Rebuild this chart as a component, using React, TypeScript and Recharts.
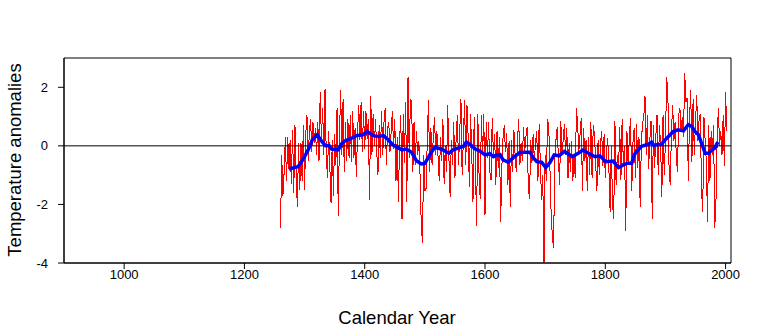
import { LineChart, Line, XAxis, YAxis, ReferenceLine, ReferenceArea } from "recharts";

// annual reconstruction, read every second year from the plot
const annualStart = 1260;
const annualStep = 2;
const annualAnomalies = [
  -2.8, -0.3, -1.7, -0.9, 0.3, -1.2, 0.3, -0.8, 0.2, -1.3,
  0.55, -1.6, 0.7, -1.0, -2.1, 0.1, -1.5, 0.1, -1.2, 0.7,
  -1.5, 0.4, 1.05, -0.5, 0.5, 0.9, -0.2, 0.8, 0.1, 0.6,
  -0.3, 0.8, -0.5, 1.85, 0.2, 1.3, -0.3, 1.95, -0.2, -1.1,
  0.5, -0.7, -1.95, 0.2, -1.7, 0.4, -0.65, 1.3, -2.4, 0.3,
  1.9, -0.3, 1.6, -0.9, 0.8, -0.5, 0.9, -0.4, 1.05, -0.55,
  1.2, -0.4, 0.6, -1.05, 0.4, 1.4, 0.2, 1.5, -0.2, 1.2,
  -0.1, 1.2, 0.25, 0.9, -1.85, 1.7, -0.3, 1.1, 0.0, 0.9,
  -0.2, -1.0, 0.7, -0.4, 1.2, -0.3, 0.8, 1.3, -0.65, 0.6,
  0.8, -0.2, 0.5, 1.2, -0.1, 0.9, -1.2, 0.3, -1.9, 0.2,
  1.05, -2.5, 1.1, -0.6, 1.5, -1.9, 2.35, -0.4, 1.6, 1.5,
  -0.9, 0.8, -0.65, 0.5, -0.3, 0.15, -1.0, -2.7, -3.3, -0.3,
  -1.55, -1.45, 0.2, 1.55, -0.9, 0.6, -0.65, 0.3, 1.0, -0.3,
  0.5, -0.4, -1.2, 0.3, -0.5, 0.9, -1.3, 0.0, -0.9, 1.4,
  -0.4, -1.75, 0.2, -0.65, 0.8, -1.1, 0.3, 1.05, -0.65, 0.5,
  1.6, -1.0, 0.2, 1.55, -0.65, 1.4, 0.3, -1.4, 1.1, -0.3,
  -1.9, 1.0, -0.5, -2.75, 1.1, -0.9, -1.8, 1.05, -0.3, 1.1,
  -2.35, 0.8, -0.4, 0.8, -0.9, -1.15, 0.95, -0.3, 0.4, -1.35,
  0.5, -0.75, 0.3, -2.6, -0.75, 0.3, 0.7, -0.2, 0.45, -1.35,
  0.15, -2.1, 0.2, -0.9, 0.55, -0.3, -0.9, 0.2, 0.9, -0.65,
  0.1, -0.5, 0.65, -0.2, 0.3, 0.65, -1.45, -1.8, 0.2, -0.6,
  0.4, -0.5, 0.1, 0.5, -1.2, 0.75, -0.6, -1.85, -1.0, -4.2,
  -0.3, -1.2, 0.9, 0.65, -0.8, -2.35, -3.1, -3.5, -0.5, 0.2,
  0.65, -0.4, -1.35, 0.85, -0.3, 0.2, 0.75, -0.3, 0.6, -1.1,
  0.1, -0.9, 0.15, -1.2, -0.3, -1.1, 1.3, 0.75, -0.2, 0.4,
  0.95, -1.55, 0.6, -0.5, 0.2, -1.55, 0.3, -1.0, 0.8, -1.1,
  0.7, 0.4, -0.6, -1.55, 0.2, -1.0, 0.1, 0.5, -0.7, 0.4,
  -1.1, -0.2, 0.25, -0.8, -2.25, 0.0, -1.95, -2.5, 0.85, -1.35,
  -0.3, -0.8, 0.65, -1.15, 0.9, -0.6, 0.0, -2.9, 0.5, -0.65,
  0.3, 0.95, -1.55, 0.1, 0.6, -1.1, 0.75, -0.75, 0.3, -2.1,
  0.2, 0.75, 1.0, 1.7, -0.3, 1.05, -0.8, 0.2, 0.85, -2.5,
  0.7, -0.75, 0.3, 1.05, -1.0, 0.7, 0.0, -1.75, 1.05, -1.0,
  0.15, 2.35, 1.8, -0.75, -1.35, 0.5, 1.4, 0.15, 0.8, -0.3,
  -0.9, 1.05, 1.3, 0.5, 1.0, 0.3, 2.5, 1.5, 1.65, -1.2,
  0.9, 1.9, -0.55, 1.6, -0.3, 0.8, 1.75, 0.15, 0.9, 1.1,
  -1.5, -2.25, 1.0, 0.2, -0.55, -2.6, 0.7, -1.2, 0.5, -0.3,
  0.7, -2.8, -1.9, 0.2, 1.3, 0.0, 0.5, -0.3, 1.05, -0.7,
  1.85, 0.5,
];

// smoothed curve
const smoothYears = [
  1274, 1289, 1297, 1306, 1313, 1321, 1328, 1335, 1341, 1345,
  1356, 1361, 1367, 1375, 1378, 1386, 1397, 1404, 1414, 1422,
  1431, 1439, 1447, 1455, 1462, 1469, 1478, 1486, 1494, 1500,
  1508, 1516, 1522, 1530, 1540, 1547, 1558, 1564, 1569, 1575,
  1583, 1591, 1600, 1608, 1614, 1619, 1625, 1630, 1639, 1647,
  1658, 1669, 1675, 1680, 1686, 1694, 1701, 1708, 1715, 1723,
  1732, 1738, 1745, 1755, 1763, 1772, 1783, 1791, 1801, 1813,
  1822, 1830, 1837, 1844, 1848, 1852, 1860, 1866, 1871, 1877,
  1881, 1887, 1893, 1898, 1905, 1913, 1921, 1930, 1938, 1944,
  1949, 1955, 1960, 1966, 1972, 1977, 1982, 1987,
];
const smoothAnomalies = [
  -0.79, -0.71, -0.48, -0.14, 0.21, 0.38, 0.17, 0.0, 0.0, -0.11,
  -0.14, 0.06, 0.17, 0.24, 0.26, 0.35, 0.38, 0.49, 0.35, 0.32,
  0.35, 0.21, 0.03, -0.06, -0.14, -0.11, -0.22, -0.51, -0.62, -0.6,
  -0.31, -0.06, -0.08, -0.14, -0.25, -0.14, -0.06, -0.02, 0.13, 0.06,
  -0.1, -0.17, -0.31, -0.27, -0.37, -0.31, -0.3, -0.48, -0.56, -0.4,
  -0.23, -0.22, -0.22, -0.4, -0.54, -0.56, -0.74, -0.57, -0.31, -0.34,
  -0.19, -0.27, -0.37, -0.25, -0.14, -0.25, -0.37, -0.34, -0.54, -0.52,
  -0.74, -0.65, -0.59, -0.59, -0.31, -0.19, -0.02, 0.02, 0.05, 0.13,
  0.01, 0.05, 0.05, 0.17, 0.32, 0.49, 0.55, 0.51, 0.72, 0.66,
  0.49, 0.38, 0.09, -0.25, -0.25, -0.14, -0.08, 0.13,
];

const yearTicks = [1000, 1200, 1400, 1600, 1800, 2000];
const anomalyTicks = [-4, -2, 0, 2];
const yearRange = [900, 2009];
const anomalyRange = [-4, 3];

const annualData = annualAnomalies.map((value, i) => ({
  year: annualStart + i * annualStep,
  value,
}));
const smoothData = smoothYears.map((year, i) => ({
  year,
  value: smoothAnomalies[i],
}));

const font = "'Liberation Sans', Arial, sans-serif";
const tickStyle = { fill: "#000", fontSize: 13, fontFamily: font };

export default function App() {
  return (
    <div style={{ position: "absolute", left: 0, top: 0, background: "#fff" }}>
      <LineChart
        width={760}
        height={331}
        margin={{ top: 58, right: 29, bottom: 30, left: 0 }}
      >
        <XAxis
          type="number"
          dataKey="year"
          domain={yearRange}
          ticks={yearTicks}
          allowDataOverflow
          height={38}
          tickSize={6}
          tickMargin={1}
          stroke="#000"
          tick={tickStyle}
        />
        <YAxis
          type="number"
          domain={anomalyRange}
          ticks={anomalyTicks}
          allowDataOverflow
          width={64}
          tickSize={6}
          tickMargin={10}
          stroke="#000"
          tick={tickStyle}
        />
        {/* plot box */}
        <ReferenceArea
          x1={yearRange[0]}
          x2={yearRange[1]}
          y1={anomalyRange[0]}
          y2={anomalyRange[1]}
          fill="none"
          stroke="#000"
          strokeWidth={1}
        />
        <Line
          data={annualData}
          dataKey="value"
          stroke="#ff0000"
          strokeWidth={1}
          shapeRendering="crispEdges"
          dot={false}
          isAnimationActive={false}
        />
        <ReferenceLine y={0} stroke="#000" strokeWidth={1} />
        <Line
          data={smoothData}
          dataKey="value"
          stroke="#0000ff"
          strokeWidth={3.5}
          dot={false}
          isAnimationActive={false}
        />
        <text x={397} y={324} textAnchor="middle" fontSize={18.5} fontFamily={font}>
          Calendar Year
        </text>
        <text
          transform="translate(20.5, 160) rotate(-90)"
          textAnchor="middle"
          fontSize={18.5}
          fontFamily={font}
        >
          Temperature anomalies
        </text>
      </LineChart>
    </div>
  );
}
